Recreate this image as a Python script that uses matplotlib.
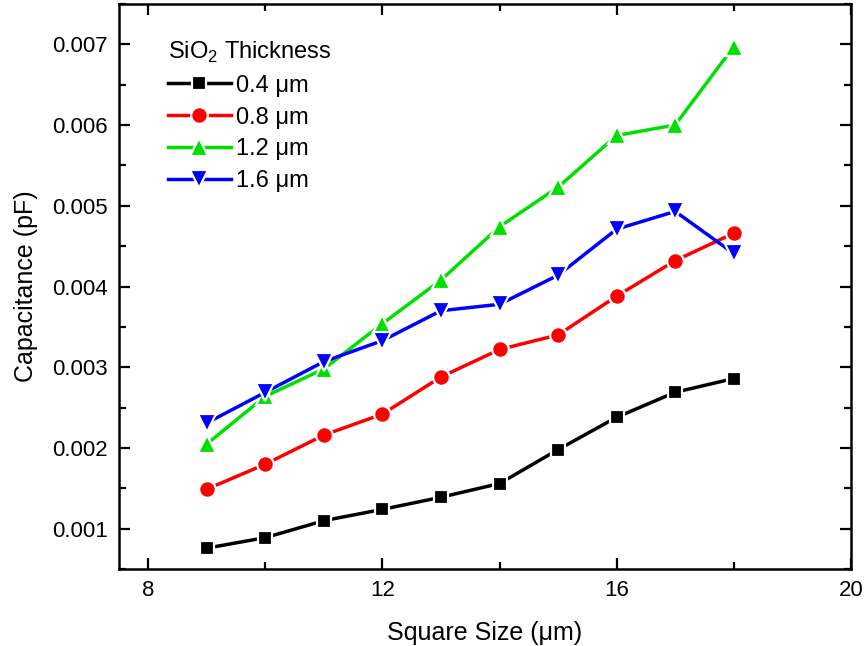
import matplotlib
matplotlib.use("Agg")
import matplotlib.pyplot as plt
from matplotlib.ticker import MultipleLocator

plt.rcParams['font.family'] = ['Liberation Sans', 'DejaVu Sans']
plt.rcParams['mathtext.fontset'] = 'custom'
plt.rcParams['mathtext.rm'] = 'Liberation Sans'

square_size = [9, 10, 11, 12, 13, 14, 15, 16, 17, 18]
cap_04 = [0.00076, 0.00089, 0.00110, 0.00124, 0.00139, 0.00156, 0.00198, 0.00238, 0.00269, 0.00286]
cap_08 = [0.00149, 0.00180, 0.00216, 0.00242, 0.00288, 0.00322, 0.00340, 0.00388, 0.00432, 0.00466]
cap_12 = [0.00205, 0.00264, 0.00298, 0.00354, 0.00408, 0.00474, 0.00523, 0.00587, 0.00600, 0.00697]
cap_16 = [0.00231, 0.00269, 0.00307, 0.00333, 0.00370, 0.00378, 0.00414, 0.00471, 0.00493, 0.00441]
labels = ["0.4 \u03bcm", "0.8 \u03bcm", "1.2 \u03bcm", "1.6 \u03bcm"]

fig = plt.figure(figsize=(8.64, 6.46), dpi=100)
ax = fig.add_axes([0.1377, 0.119, 0.847, 0.875])

styles = [
    (cap_04, 'black', 's', 10.5),
    (cap_08, '#ff0000', 'o', 12),
    (cap_12, '#00e000', '^', 13),
    (cap_16, '#0000ff', 'v', 13),
]
for (vals, color, marker, ms), lab in zip(styles, labels):
    ax.plot(square_size, vals, color=color, lw=2.5, marker=marker, ms=ms,
            markerfacecolor=color, markeredgecolor='white', markeredgewidth=1.6,
            label=lab)

ax.set_xlim(7.5, 20)
ax.set_ylim(0.0005, 0.0075)
ax.xaxis.set_major_locator(MultipleLocator(4))
ax.xaxis.set_minor_locator(MultipleLocator(2))
ax.yaxis.set_minor_locator(MultipleLocator(0.0005))
ax.set_yticks([0.001, 0.002, 0.003, 0.004, 0.005, 0.006, 0.007])
ax.set_yticklabels(["0.001", "0.002", "0.003", "0.004", "0.005", "0.006", "0.007"])

ax.tick_params(which='both', direction='in', top=True, right=True, width=1.6,
               labelsize=16, colors='black')
ax.tick_params(which='major', length=8, pad=8)
ax.tick_params(which='minor', length=5)
for sp in ax.spines.values():
    sp.set_linewidth(1.8)

ax.set_xlabel("Square Size (\u03bcm)", fontsize=18, labelpad=14)
ax.set_ylabel("Capacitance (pF)", fontsize=18, labelpad=10)

leg = ax.legend(title="SiO$_2$ Thickness", loc='upper left', frameon=False,
                fontsize=17, title_fontsize=17, handlelength=2.7,
                handletextpad=0.2, labelspacing=0.42,
                bbox_to_anchor=(0.047, 0.962), borderaxespad=0.2)
leg._legend_box.align = "left"

fig.savefig("out.png", dpi=100)
